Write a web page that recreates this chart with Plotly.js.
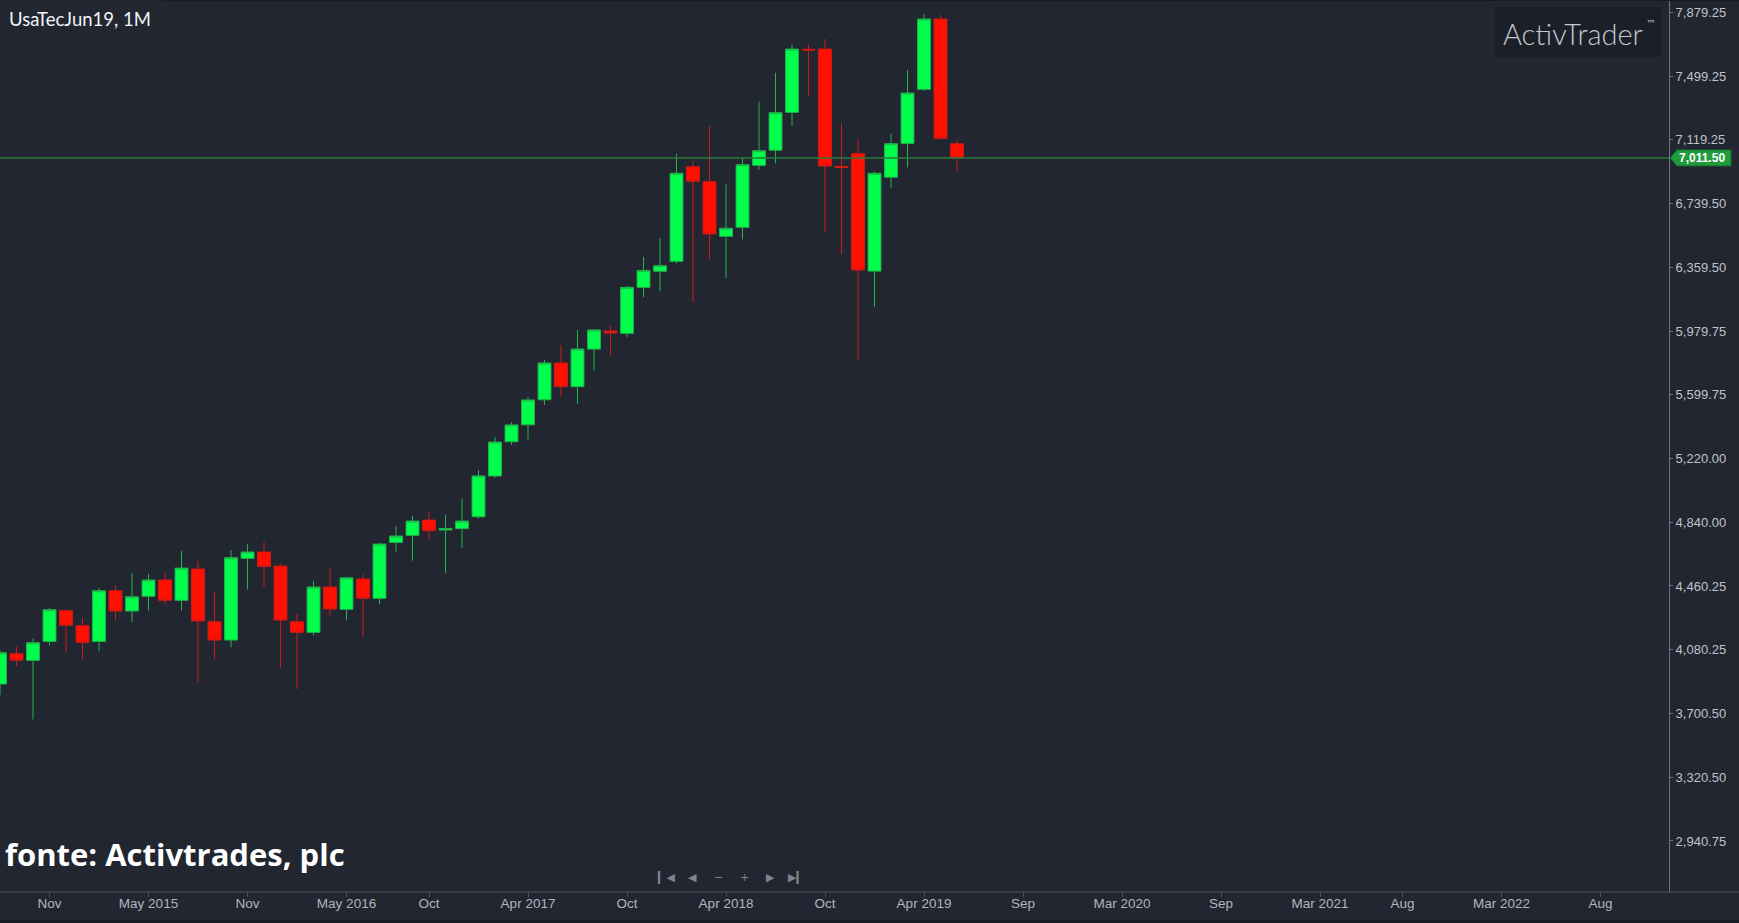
<!DOCTYPE html>
<html>
<head>
<meta charset="utf-8">
<script src="https://cdn.plot.ly/plotly-3.0.1.min.js"></script>
<style>
  html, body { margin: 0; padding: 0; background: #212630; overflow: hidden; }
  #chart { width: 1739px; height: 923px; }
</style>
</head>
<body>
<div id="chart"></div>
<script>
// ---- Data (monthly candles, UsaTecJun19) ----
const months = ['2014-08','2014-09','2014-10','2014-11','2014-12',
  '2015-01','2015-02','2015-03','2015-04','2015-05','2015-06','2015-07','2015-08','2015-09','2015-10','2015-11','2015-12',
  '2016-01','2016-02','2016-03','2016-04','2016-05','2016-06','2016-07','2016-08','2016-09','2016-10','2016-11','2016-12',
  '2017-01','2017-02','2017-03','2017-04','2017-05','2017-06','2017-07','2017-08','2017-09','2017-10','2017-11','2017-12',
  '2018-01','2018-02','2018-03','2018-04','2018-05','2018-06','2018-07','2018-08','2018-09','2018-10','2018-11','2018-12',
  '2019-01','2019-02','2019-03','2019-04','2019-05','2019-06'];

const openVals  = [3876,4056,4017,4130,4313, 4223,4130,4432,4311,4399,4496,4375,4561,4247,4138,4625,4663,
  4579,4247,4184,4454,4321,4502,4387,4720,4762,4853,4794,4802,
  4873,5116,5320,5421,5570,5789,5648,5872,5980,5966,6240,6336,
  6395,6959,6870,6544,6598,6967,7057,7283,7659,7660,6961,7036,
  6337,6896,7098,7420,7839,7096];
const highVals  = [4075,4098,4148,4331,4320, 4271,4450,4466,4539,4532,4539,4669,4609,4426,4675,4710,4722,
  4593,4295,4491,4569,4515,4530,4718,4817,4879,4901,4883,4979,
  5151,5348,5437,5587,5807,5896,5986,5990,6010,6248,6421,6532,
  7037,6995,7203,6854,7015,7346,7519,7684,7684,7720,7219,7126,
  6929,7156,7535,7869,7863,7120];
const lowVals   = [3810,3983,3665,4107,4065, 4023,4071,4256,4244,4315,4349,4315,3886,4023,4095,4440,4456,
  3969,3846,4166,4279,4256,4154,4351,4664,4611,4742,4539,4688,
  4861,5105,5302,5332,5539,5588,5547,5743,5831,5944,6181,6216,
  6383,6151,6409,6294,6526,6941,6979,7203,7382,6568,6437,5807,
  6123,6830,6955,7410,7120,6929];
const closeVals = [4062,4018,4122,4319,4226, 4124,4432,4311,4396,4496,4375,4567,4252,4138,4629,4663,4577,
  4257,4184,4454,4323,4509,4387,4710,4758,4847,4790,4802,4847,
  5116,5318,5420,5569,5789,5648,5872,5986,5968,6240,6341,6369,
  6920,6872,6558,6592,6971,7054,7281,7660,7654,6963,6955,6343,
  6920,7096,7398,7839,7128,7011.5];

const lastPrice = 7011.5;

// y-axis tick values (as printed on the price scale)
const priceTicks = [2940.75,3320.50,3700.50,4080.25,4460.25,4840.00,5220.00,5599.75,5979.75,6359.50,6739.50,7119.25,7499.25,7879.25];

// x-axis tick labels and their bar positions (bar index, Aug 2014 = 0)
const timeTickLabels = ['Nov','May 2015','Nov','May 2016','Oct','Apr 2017','Oct','Apr 2018','Oct','Apr 2019',
  'Sep','Mar 2020','Sep','Mar 2021','Aug','Mar 2022','Aug'];
const timeTickBars = [3,9,15,21,26,32,38,44,50,56,62,68,74,80,85,91,97];

const navSymbols = ['▎◀','◀','−','+','▶','▶▎'];

// ---- Layout constants ----
const W = 1739, H = 923;
const M = {l: 0, r: 70, t: 0, b: 31};
const plotW = W - M.l - M.r, plotH = H - M.t - M.b;
const BG = '#212630';

const xIdx = months.map((m, i) => i);

const trace = {
  type: 'candlestick',
  x: xIdx,
  open: openVals, high: highVals, low: lowVals, close: closeVals,
  increasing: {fillcolor: '#00ff4c', line: {color: '#22b34a', width: 1}},
  decreasing: {fillcolor: '#ff1000', line: {color: '#d21a14', width: 1}},
  whiskerwidth: 0,
  hoverinfo: 'skip',
  showlegend: false
};

const shapes = [
  // last price line
  {type: 'line', xref: 'paper', x0: 0, x1: 1, yref: 'y', y0: lastPrice, y1: lastPrice,
   line: {color: '#2c7a3c', width: 1.5}, layer: 'above'},
  // last price label box with arrow
  {type: 'path', xref: 'paper', xsizemode: 'pixel', xanchor: 1, yref: 'y', ysizemode: 'pixel', yanchor: lastPrice,
   path: 'M 1 0 L 8 -8 L 62 -8 L 62 8 L 8 8 Z', fillcolor: '#1f9a3d', line: {color: '#17722d', width: 1}, layer: 'above'},
  // full-width x-axis line
  {type: 'line', xref: 'paper', x0: 0, x1: W / plotW, yref: 'paper', y0: 0, y1: 0,
   line: {color: '#4a4f5a', width: 1}, layer: 'above'},
  // logo box
  {type: 'rect', xref: 'paper', xsizemode: 'pixel', xanchor: 1, x0: -174, x1: -8,
   yref: 'paper', ysizemode: 'pixel', yanchor: 1, y0: -7, y1: -57,
   fillcolor: '#1b1f27', line: {width: 0}, layer: 'above'},
  // dark bottom strip
  {type: 'rect', xref: 'paper', x0: -0.01, x1: 1.05, yref: 'paper', y0: -31 / plotH, y1: -28 / plotH,
   fillcolor: '#191c22', line: {width: 0}, layer: 'above'},
  // dark top edge
  {type: 'line', xref: 'paper', x0: 163 / plotW, x1: 1.05, yref: 'paper', y0: 1, y1: 1,
   line: {color: '#181b21', width: 2}, layer: 'above'}
];

const annotations = [
  {text: 'UsaTecJun19, 1M', xref: 'paper', yref: 'paper', x: 0, y: 1, xanchor: 'left', yanchor: 'middle',
   xshift: 7, yshift: -19, showarrow: false, font: {family: 'Lato, sans-serif', size: 18.5, color: '#f2f4f8'}},
  {text: 'fonte: Activtrades, plc', xref: 'paper', yref: 'paper', x: 0, y: 0, xanchor: 'left', yanchor: 'middle',
   xshift: 3, yshift: 38, showarrow: false,
   font: {family: 'Open Sans, sans-serif', size: 31, color: '#ffffff', weight: 700}},
  {text: 'ActivTrader', xref: 'paper', yref: 'paper', x: 1, y: 1, xanchor: 'right', yanchor: 'middle',
   xshift: -24, yshift: -33, showarrow: false, font: {family: 'Lato, sans-serif', size: 29, color: '#c5c8ce', weight: 300}},
  {text: '™', xref: 'paper', yref: 'paper', x: 1, y: 1, xanchor: 'left', yanchor: 'middle',
   xshift: -25, yshift: -23, showarrow: false, font: {family: 'DejaVu Sans, sans-serif', size: 10, color: '#c5c8ce'}},
  {text: lastPrice.toLocaleString('en-US', {minimumFractionDigits: 2}), xref: 'paper', yref: 'y', x: 1, y: lastPrice,
   xanchor: 'left', yanchor: 'middle', xshift: 8, showarrow: false,
   font: {family: 'Liberation Sans, Arial, sans-serif', size: 12, color: '#ffffff', weight: 700}}
];

navSymbols.forEach((s, i) => {
  annotations.push({text: s, xref: 'paper', yref: 'paper', x: 0, y: 0, xanchor: 'center', yanchor: 'middle',
    xshift: 666 + i * 26, yshift: 15, showarrow: false,
    font: {family: 'DejaVu Sans, sans-serif', size: 11, color: '#80848e'}});
});

const layout = {
  width: W, height: H,
  margin: M,
  paper_bgcolor: BG, plot_bgcolor: BG,
  boxgap: 0.22, boxgroupgap: 0,
  showlegend: false,
  xaxis: {
    type: 'linear', range: [0, 101.15], rangeslider: {visible: false},
    showgrid: false, zeroline: false, showline: false,
    tickmode: 'array', tickvals: timeTickBars, ticktext: timeTickLabels,
    ticks: 'outside', ticklen: 4, tickcolor: '#4a4f5a', tickwidth: 1,
    ticklabelstandoff: -5,
    tickfont: {family: 'Liberation Sans, Arial, sans-serif', size: 13.5, color: '#b2b5be'},
    fixedrange: true
  },
  yaxis: {
    side: 'right', range: [2636.6, 7952.5],
    showgrid: false, zeroline: false,
    showline: true, linecolor: '#71757e', linewidth: 1,
    tickmode: 'array', tickvals: priceTicks, tickformat: ',.2f',
    ticks: 'outside', ticklen: 3, tickcolor: '#71757e',
    tickfont: {family: 'Liberation Sans, Arial, sans-serif', size: 13, color: '#c0c3c9'},
    fixedrange: true
  },
  shapes: shapes,
  annotations: annotations
};

Plotly.newPlot('chart', [trace], layout, {displayModeBar: false, staticPlot: true});
</script>
</body>
</html>
